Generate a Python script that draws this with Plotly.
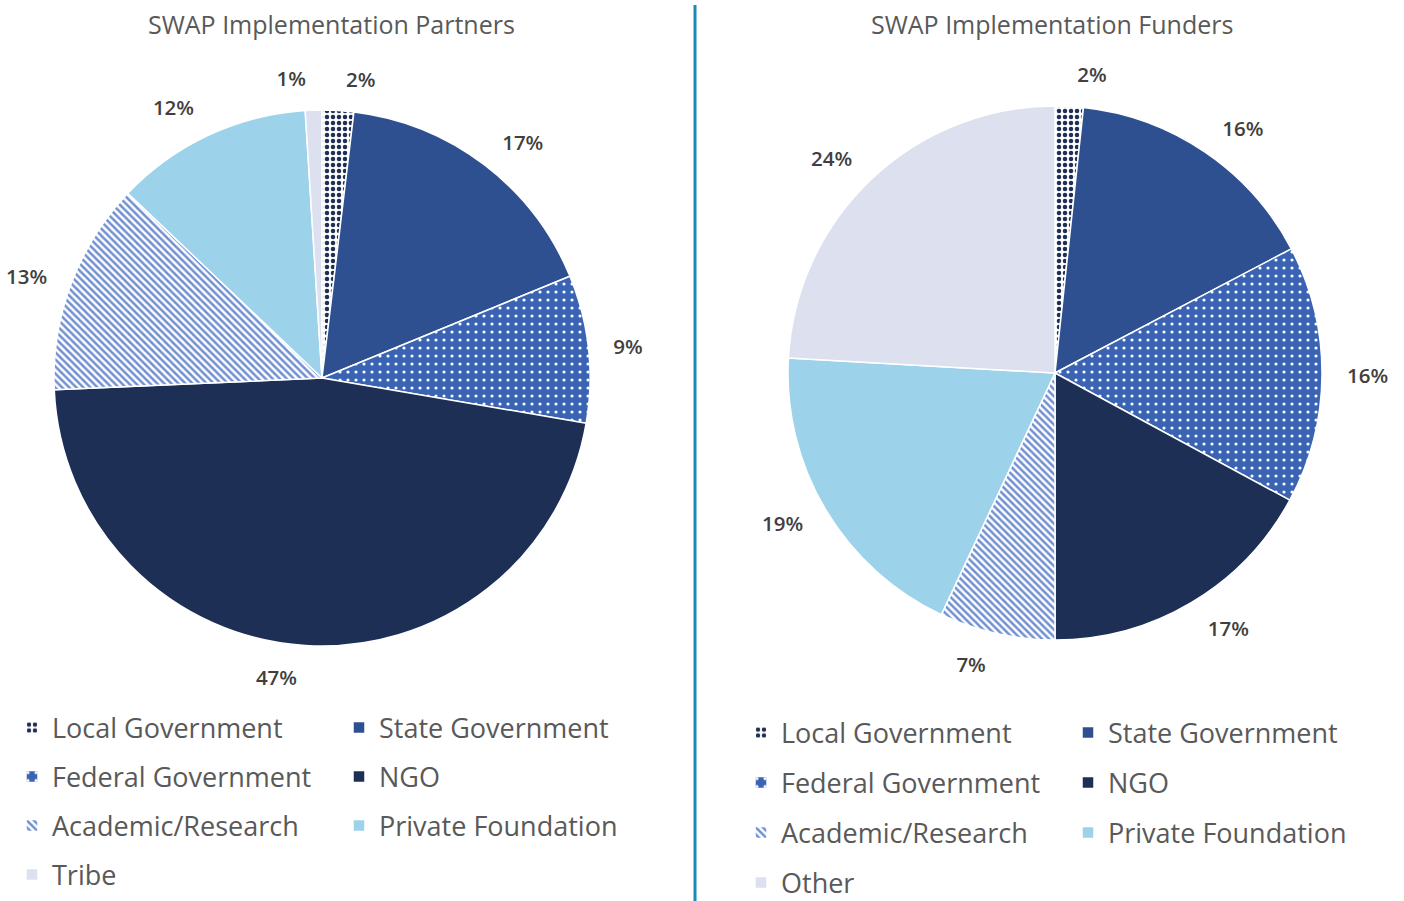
import plotly.graph_objects as go

W, H = 1404, 901

# ---- data (shares in %; labels show them rounded) ----
partner_labels = ["Local Government", "State Government", "Federal Government", "NGO",
                  "Academic/Research", "Private Foundation", "Tribe"]
partner_values = [1.9, 16.9, 8.9, 46.6, 12.8, 11.9, 1.0]

funder_labels = ["Local Government", "State Government", "Federal Government", "NGO",
                 "Academic/Research", "Private Foundation", "Other"]
funder_values = [1.7, 15.6, 15.6, 17.1, 7.0, 18.9, 24.1]

titles = ["SWAP Implementation Partners", "SWAP Implementation Funders"]

# ---- styles ----
STYLE = {
    "Local Government":   dict(color="#FFFFFF", shape=".",  fg="#1F2F56", bg="#FFFFFF", size=6, sol=0.45),
    "State Government":   dict(color="#2F5090", shape="",   fg="#2F5090", bg="#2F5090", size=8, sol=0.3),
    "Federal Government": dict(color="#3A63B3", shape=".",  fg="#FFFFFF", bg="#3A63B3", size=8, sol=0.12),
    "NGO":                dict(color="#1E2F56", shape="",   fg="#1E2F56", bg="#1E2F56", size=8, sol=0.3),
    "Academic/Research":  dict(color="#FFFFFF", shape="\\", fg="#7190D2", bg="#FFFFFF", size=5, sol=0.5),
    "Private Foundation": dict(color="#9DD3EA", shape="",   fg="#9DD3EA", bg="#9DD3EA", size=8, sol=0.3),
    "Tribe":              dict(color="#DCE0EF", shape="",   fg="#DCE0EF", bg="#DCE0EF", size=8, sol=0.3),
    "Other":              dict(color="#DCE0EF", shape="",   fg="#DCE0EF", bg="#DCE0EF", size=8, sol=0.3),
}

def marker_for(labels):
    return dict(
        colors=[STYLE[l]["color"] for l in labels],
        pattern=dict(
            shape=[STYLE[l]["shape"] for l in labels],
            fgcolor=[STYLE[l]["fg"] for l in labels],
            bgcolor=[STYLE[l]["bg"] for l in labels],
            size=[STYLE[l]["size"] for l in labels],
            solidity=[STYLE[l]["sol"] for l in labels],
            fillmode="replace",
        ),
        line=dict(color="#FFFFFF", width=1.5),
    )

FONT = "Open Sans"

# pie geometry in pixels: (cx, cy, r)
pies = [(322, 378, 268), (1055, 373, 267)]
LABEL_PAD = 18  # label ring sits this far outside the visible pie
# legend geometry: (symbol-left x, first row centre y, row gap)
legs = [(26, 728, 49), (755, 733, 50)]

def dom(cx, cy, r):
    return dict(x=[(cx - r) / W, (cx + r) / W], y=[1 - (cy + r) / H, 1 - (cy - r) / H])

fig = go.Figure()

legend_layouts = {}
lid = 1
for p, (labels, values) in enumerate([(partner_labels, partner_values), (funder_labels, funder_values)]):
    cx, cy, r = pies[p]
    suffix = " " * p  # keep legend entries of the two charts distinct
    lx, ly, gap = legs[p]
    for row in range(0, len(labels), 2):
        rl = labels[row:row + 2]
        name = "legend" if lid == 1 else f"legend{lid}"
        fig.add_trace(go.Pie(
            labels=[l + suffix for l in rl], values=[1] * len(rl), sort=False, direction="clockwise",
            marker=marker_for(rl), textinfo="none", hoverinfo="skip",
            domain=dict(x=[cx / W, (cx + 0.3) / W], y=[1 - (cy + 0.3) / H, 1 - cy / H]),
            legend=name, showlegend=True,
        ))
        legend_layouts[name] = dict(
            x=(lx - 14) / W, y=1 - (ly + gap * (row // 2)) / H,
            xanchor="left", yanchor="middle", orientation="h",
            entrywidth=282, entrywidthmode="pixels",
            font=dict(family=FONT, size=27, color="#595959"),
            bgcolor="rgba(0,0,0,0)", borderwidth=0, itemclick=False, itemdoubleclick=False,
        )
        lid += 1

    fig.add_trace(go.Pie(
        labels=labels, values=values, sort=False, direction="clockwise",
        marker=dict(colors=["rgba(0,0,0,0)"] * len(labels), line=dict(width=0)),
        textposition="outside", texttemplate="%{value:.0f}%",
        textfont=dict(family=FONT, size=20.5, color="#404040", weight=600),
        domain=dom(cx, cy, r + LABEL_PAD), showlegend=False, hoverinfo="skip",
    ))
    fig.add_trace(go.Pie(
        labels=labels, values=values, sort=False, direction="clockwise",
        marker=marker_for(labels), textinfo="none",
        domain=dom(cx, cy, r), showlegend=False, hoverinfo="label+value",
    ))

annotations = []
for t, xc in zip(titles, [331, 1052]):
    annotations.append(dict(text=t, x=xc / W, y=1 - 24 / H, xref="paper", yref="paper",
                            xanchor="center", yanchor="middle", showarrow=False,
                            font=dict(family=FONT, size=25, color="#595959")))

fig.update_layout(
    width=W, height=H, margin=dict(l=0, r=0, t=0, b=0, autoexpand=False),
    paper_bgcolor="white", plot_bgcolor="white",
    annotations=annotations,
    shapes=[dict(type="line", xref="paper", yref="paper", x0=695 / W, x1=695 / W,
                 y0=0, y1=1 - 5 / H, line=dict(color="#1A8BB7", width=3))],
    **legend_layouts,
)

fig.write_html("out.html", config={"displayModeBar": False},
               post_script="document.body.style.margin='0px';")
